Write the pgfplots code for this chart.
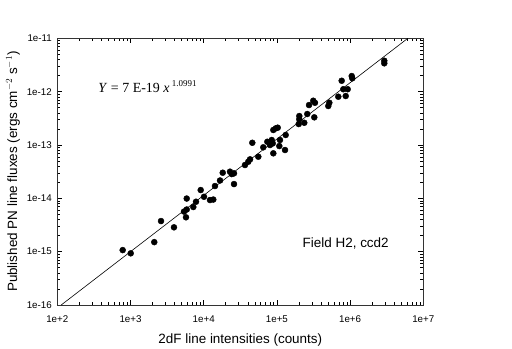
\documentclass[border=0pt]{standalone}
\usepackage{pgfplots}
\pgfplotsset{compat=1.18}
\usepackage{fontspec}
\setmainfont{Liberation Sans}
\newfontfamily\seriffont{Liberation Serif}
\begin{document}
\begin{tikzpicture}
\useasboundingbox (0,0) rectangle (512bp,349bp);
\begin{axis}[
  at={(57.3bp,44bp)}, anchor=south west,
  scale only axis, width=366bp, height=266.7bp,
  xmode=log, ymode=log,
  xmin=1e2, xmax=1e7, ymin=1e-16, ymax=1e-11,
  xtick={1e2,1e3,1e4,1e5,1e6,1e7},
  xticklabels={1e+2,1e+3,1e+4,1e+5,1e+6,1e+7},
  ytick={1e-16,1e-15,1e-14,1e-13,1e-12,1e-11},
  yticklabels={1e-16,1e-15,1e-14,1e-13,1e-12,1e-11},
  tick align=inside,
  major tick length=5bp, minor tick length=3bp,
  tick style={black, line width=0.5pt},
  axis line style={line width=0.8pt, black!80},
  ticklabel style={font=\fontsize{9.8}{11}\selectfont},
  xticklabel style={yshift=-7bp},
  yticklabel style={xshift=-2bp},
  xlabel={2dF line intensities (counts)},
  ylabel={Published PN line fluxes (ergs cm$^{-2}$ s$^{-1}$)},
  label style={font=\fontsize{13.5}{15}\selectfont},
  xlabel style={yshift=-4.5bp},
  ylabel style={yshift=0bp},
  clip=true,
]
\addplot[black, line width=0.6pt] coordinates {(113,1e-16) (6.14e6,1e-11)};
\addplot[only marks, mark=*, mark size=3bp, black] table {
x y
782 1.07e-15
1007 9.31e-16
2113 1.51e-15
2612 3.75e-15
3926 2.86e-15
5728 4.41e-15
5383 5.65e-15
5861 6.17e-15
5861 9.91e-15
7211 6.87e-15
7852 8.63e-15
9099 1.43e-14
10093 1.07e-14
12190 9.29e-15
13520 9.48e-15
14256 1.70e-14
16711 2.16e-14
18197 3.02e-14
22856 3.16e-14
24155 2.85e-14
25942 2.94e-14
25942 1.85e-14
36644 4.21e-14
40644 4.85e-14
42954 5.38e-14
46132 1.10e-13
55719 6.03e-14
65163 9.04e-14
73961 1.15e-13
84918 1.24e-13
87700 1.07e-13
80538 9.98e-14
89330 6.98e-14
107900 9.55e-14
110200 1.24e-13
129100 8.05e-14
131800 1.54e-13
89330 1.91e-13
96390 2.05e-13
102600 2.11e-13
198600 2.47e-13
202300 3.03e-13
202300 3.49e-13
236600 2.61e-13
260000 3.81e-13
324300 3.30e-13
274800 5.61e-13
314100 6.76e-13
331100 6.19e-13
503500 5.38e-13
520000 6.19e-13
690200 8.04e-13
871000 8.28e-13
807200 1.11e-12
926800 1.11e-12
767400 1.60e-12
1052000 1.96e-12
1072000 1.78e-12
2931000 3.80e-12
2931000 3.40e-12
};
\node[anchor=base west, font=\seriffont\fontsize{14}{16}\selectfont, inner sep=0pt]
  at (rel axis cs:0.112,0.795) {\textit{Y} = 7 E-19 \textit{x}\,\raisebox{0.5em}{\fontsize{9}{10}\selectfont 1.0991}};
\node[anchor=base west, font=\fontsize{13.5}{15}\selectfont, inner sep=0pt]
  at (rel axis cs:0.67,0.215) {Field H2, ccd2};
\end{axis}
\end{tikzpicture}
\end{document}
